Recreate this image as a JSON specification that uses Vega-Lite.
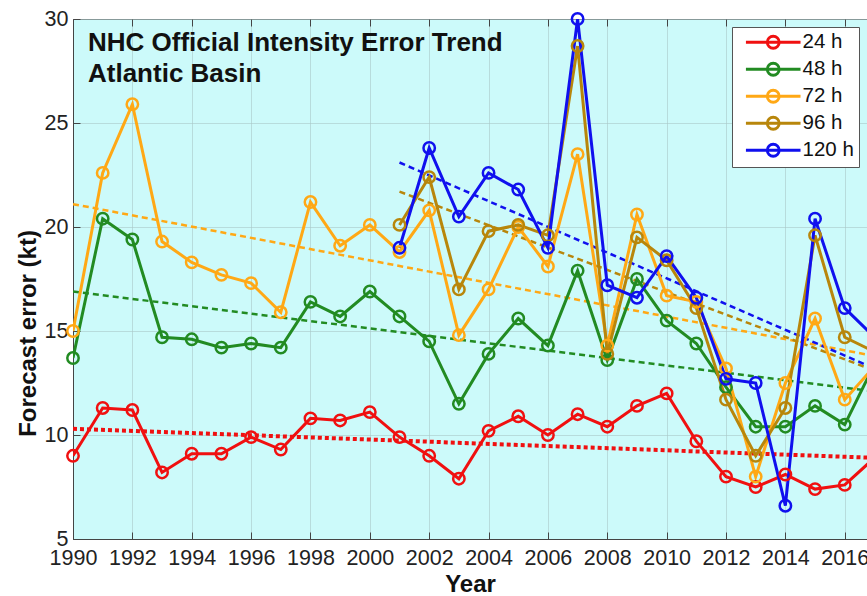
{
  "$schema": "https://vega.github.io/schema/vega-lite/v6.json",
  "width": 794,
  "height": 520,
  "autosize": "none",
  "padding": {"left": 73, "top": 19, "right": 0, "bottom": 57},
  "background": "white",
  "title": {
    "text": ["NHC Official Intensity Error Trend", "Atlantic Basin"],
    "anchor": "start",
    "frame": "group",
    "orient": "top",
    "offset": 0,
    "dx": 15,
    "dy": 79,
    "baseline": "top",
    "font": "Liberation Sans",
    "fontSize": 26,
    "fontWeight": "bold",
    "lineHeight": 31,
    "color": "#111111"
  },
  "datasets": {
    "errors": [
      {"year": 1990, "series": "24 h", "value": 9.0},
      {"year": 1991, "series": "24 h", "value": 11.3},
      {"year": 1992, "series": "24 h", "value": 11.2},
      {"year": 1993, "series": "24 h", "value": 8.2},
      {"year": 1994, "series": "24 h", "value": 9.1},
      {"year": 1995, "series": "24 h", "value": 9.1},
      {"year": 1996, "series": "24 h", "value": 9.9},
      {"year": 1997, "series": "24 h", "value": 9.3},
      {"year": 1998, "series": "24 h", "value": 10.8},
      {"year": 1999, "series": "24 h", "value": 10.7},
      {"year": 2000, "series": "24 h", "value": 11.1},
      {"year": 2001, "series": "24 h", "value": 9.9},
      {"year": 2002, "series": "24 h", "value": 9.0},
      {"year": 2003, "series": "24 h", "value": 7.9},
      {"year": 2004, "series": "24 h", "value": 10.2},
      {"year": 2005, "series": "24 h", "value": 10.9},
      {"year": 2006, "series": "24 h", "value": 10.0},
      {"year": 2007, "series": "24 h", "value": 11.0},
      {"year": 2008, "series": "24 h", "value": 10.4},
      {"year": 2009, "series": "24 h", "value": 11.4},
      {"year": 2010, "series": "24 h", "value": 12.0},
      {"year": 2011, "series": "24 h", "value": 9.7},
      {"year": 2012, "series": "24 h", "value": 8.0},
      {"year": 2013, "series": "24 h", "value": 7.5},
      {"year": 2014, "series": "24 h", "value": 8.1},
      {"year": 2015, "series": "24 h", "value": 7.4},
      {"year": 2016, "series": "24 h", "value": 7.6},
      {"year": 2017, "series": "24 h", "value": 8.9},
      {"year": 1990, "series": "48 h", "value": 13.7},
      {"year": 1991, "series": "48 h", "value": 20.4},
      {"year": 1992, "series": "48 h", "value": 19.4},
      {"year": 1993, "series": "48 h", "value": 14.7},
      {"year": 1994, "series": "48 h", "value": 14.6},
      {"year": 1995, "series": "48 h", "value": 14.2},
      {"year": 1996, "series": "48 h", "value": 14.4},
      {"year": 1997, "series": "48 h", "value": 14.2},
      {"year": 1998, "series": "48 h", "value": 16.4},
      {"year": 1999, "series": "48 h", "value": 15.7},
      {"year": 2000, "series": "48 h", "value": 16.9},
      {"year": 2001, "series": "48 h", "value": 15.7},
      {"year": 2002, "series": "48 h", "value": 14.5},
      {"year": 2003, "series": "48 h", "value": 11.5},
      {"year": 2004, "series": "48 h", "value": 13.9},
      {"year": 2005, "series": "48 h", "value": 15.6},
      {"year": 2006, "series": "48 h", "value": 14.3},
      {"year": 2007, "series": "48 h", "value": 17.9},
      {"year": 2008, "series": "48 h", "value": 13.6},
      {"year": 2009, "series": "48 h", "value": 17.5},
      {"year": 2010, "series": "48 h", "value": 15.5},
      {"year": 2011, "series": "48 h", "value": 14.4},
      {"year": 2012, "series": "48 h", "value": 12.3},
      {"year": 2013, "series": "48 h", "value": 10.4},
      {"year": 2014, "series": "48 h", "value": 10.4},
      {"year": 2015, "series": "48 h", "value": 11.4},
      {"year": 2016, "series": "48 h", "value": 10.5},
      {"year": 2017, "series": "48 h", "value": 13.4},
      {"year": 1990, "series": "72 h", "value": 15.0},
      {"year": 1991, "series": "72 h", "value": 22.6},
      {"year": 1992, "series": "72 h", "value": 25.9},
      {"year": 1993, "series": "72 h", "value": 19.3},
      {"year": 1994, "series": "72 h", "value": 18.3},
      {"year": 1995, "series": "72 h", "value": 17.7},
      {"year": 1996, "series": "72 h", "value": 17.3},
      {"year": 1997, "series": "72 h", "value": 15.9},
      {"year": 1998, "series": "72 h", "value": 21.2},
      {"year": 1999, "series": "72 h", "value": 19.1},
      {"year": 2000, "series": "72 h", "value": 20.1},
      {"year": 2001, "series": "72 h", "value": 18.8},
      {"year": 2002, "series": "72 h", "value": 20.8},
      {"year": 2003, "series": "72 h", "value": 14.8},
      {"year": 2004, "series": "72 h", "value": 17.0},
      {"year": 2005, "series": "72 h", "value": 20.0},
      {"year": 2006, "series": "72 h", "value": 18.1},
      {"year": 2007, "series": "72 h", "value": 23.5},
      {"year": 2008, "series": "72 h", "value": 14.3},
      {"year": 2009, "series": "72 h", "value": 20.6},
      {"year": 2010, "series": "72 h", "value": 16.7},
      {"year": 2011, "series": "72 h", "value": 16.4},
      {"year": 2012, "series": "72 h", "value": 13.2},
      {"year": 2013, "series": "72 h", "value": 8.0},
      {"year": 2014, "series": "72 h", "value": 12.5},
      {"year": 2015, "series": "72 h", "value": 15.6},
      {"year": 2016, "series": "72 h", "value": 11.7},
      {"year": 2017, "series": "72 h", "value": 13.3},
      {"year": 2001, "series": "96 h", "value": 20.1},
      {"year": 2002, "series": "96 h", "value": 22.4},
      {"year": 2003, "series": "96 h", "value": 17.0},
      {"year": 2004, "series": "96 h", "value": 19.8},
      {"year": 2005, "series": "96 h", "value": 20.1},
      {"year": 2006, "series": "96 h", "value": 19.6},
      {"year": 2007, "series": "96 h", "value": 28.7},
      {"year": 2008, "series": "96 h", "value": 13.9},
      {"year": 2009, "series": "96 h", "value": 19.5},
      {"year": 2010, "series": "96 h", "value": 18.4},
      {"year": 2011, "series": "96 h", "value": 16.1},
      {"year": 2012, "series": "96 h", "value": 11.7},
      {"year": 2013, "series": "96 h", "value": 9.0},
      {"year": 2014, "series": "96 h", "value": 11.3},
      {"year": 2015, "series": "96 h", "value": 19.6},
      {"year": 2016, "series": "96 h", "value": 14.7},
      {"year": 2017, "series": "96 h", "value": 14.0},
      {"year": 2001, "series": "120 h", "value": 19.0},
      {"year": 2002, "series": "120 h", "value": 23.8},
      {"year": 2003, "series": "120 h", "value": 20.5},
      {"year": 2004, "series": "120 h", "value": 22.6},
      {"year": 2005, "series": "120 h", "value": 21.8},
      {"year": 2006, "series": "120 h", "value": 19.0},
      {"year": 2007, "series": "120 h", "value": 30.0},
      {"year": 2008, "series": "120 h", "value": 17.2},
      {"year": 2009, "series": "120 h", "value": 16.6},
      {"year": 2010, "series": "120 h", "value": 18.6},
      {"year": 2011, "series": "120 h", "value": 16.6},
      {"year": 2012, "series": "120 h", "value": 12.7},
      {"year": 2013, "series": "120 h", "value": 12.5},
      {"year": 2014, "series": "120 h", "value": 6.6},
      {"year": 2015, "series": "120 h", "value": 20.4},
      {"year": 2016, "series": "120 h", "value": 16.1},
      {"year": 2017, "series": "120 h", "value": 14.7}
    ],
    "trends": [
      {"year": 1990, "series": "24 h", "value": 10.3},
      {"year": 2017, "series": "24 h", "value": 8.9},
      {"year": 1990, "series": "48 h", "value": 16.9},
      {"year": 2017, "series": "48 h", "value": 12.1},
      {"year": 1990, "series": "72 h", "value": 21.1},
      {"year": 2017, "series": "72 h", "value": 13.8},
      {"year": 2001, "series": "96 h", "value": 21.7},
      {"year": 2017, "series": "96 h", "value": 13.1},
      {"year": 2001, "series": "120 h", "value": 23.1},
      {"year": 2017, "series": "120 h", "value": 13.2}
    ]
  },
  "layer": [
    {
      "data": {"name": "trends"},
      "transform": [{"filter": "datum.series !== '24 h'"}],
      "mark": {"type": "line", "strokeWidth": 2.5, "strokeDash": [6, 4], "clip": true},
      "encoding": {
        "x": {"field": "year", "type": "quantitative", "axis": null},
        "y": {
          "field": "value",
          "type": "quantitative",
          "scale": {"domain": [5, 30], "nice": false, "zero": false},
          "axis": {
            "values": [5, 10, 15, 20, 25, 30],
            "title": "Forecast error (kt)",
            "titleFontSize": 24,
            "titleFontWeight": "bold",
            "titleX": -45,
            "titleY": 314,
            "titleAngle": 270,
            "titleAlign": "center",
            "titleBaseline": "middle",
            "grid": true,
            "tickSize": -7,
            "labelPadding": 12,
            "labelFontSize": 21.5
          }
        },
        "color": {"field": "series", "type": "nominal"}
      }
    },
    {
      "data": {"name": "trends"},
      "transform": [{"filter": "datum.series === '24 h'"}],
      "mark": {"type": "line", "strokeWidth": 4, "strokeDash": [4, 3], "clip": true},
      "encoding": {
        "x": {"field": "year", "type": "quantitative", "axis": null},
        "y": {"field": "value", "type": "quantitative"},
        "color": {"field": "series", "type": "nominal"}
      }
    },
    {
      "data": {"name": "errors"},
      "mark": {"type": "line", "strokeWidth": 3, "clip": true},
      "encoding": {
        "x": {
          "field": "year",
          "type": "quantitative",
          "scale": {"domain": [1990, 2016.75], "nice": false, "zero": false},
          "axis": {
            "orient": "bottom",
            "values": [1990, 1992, 1994, 1996, 1998, 2000, 2002, 2004, 2006, 2008, 2010, 2012, 2014, 2016],
            "format": "d",
            "labelOverlap": false,
            "labelFlush": false,
            "title": "Year",
            "titleFontSize": 24,
            "titleFontWeight": "bold",
            "titleY": 45,
            "titleBaseline": "middle",
            "grid": true,
            "tickSize": -7,
            "labelPadding": 15,
            "labelFontSize": 21.5
          }
        },
        "y": {"field": "value", "type": "quantitative"},
        "color": {
          "field": "series",
          "type": "nominal",
          "scale": {
            "domain": ["24 h", "48 h", "72 h", "96 h", "120 h"],
            "range": ["#f01010", "#228b22", "#ffa815", "#b8860b", "#1010ee"]
          },
          "legend": {
            "title": null,
            "orient": "top-right",
            "offset": 8,
            "padding": 5,
            "symbolType": "M-0.22,0H8.88M5.33,0A1,1 0 1 1 3.33,0A1,1 0 1 1 5.33,0",
            "symbolSize": 144,
            "symbolStrokeWidth": 2.8,
            "symbolFillColor": "transparent",
            "symbolDash": [],
            "labelOffset": 45,
            "labelFontSize": 20.5,
            "labelFont": "Liberation Sans",
            "labelColor": "#111111",
            "rowPadding": 3,
            "fillColor": "white",
            "strokeColor": "#555555"
          }
        }
      }
    },
    {
      "data": {"name": "errors"},
      "mark": {"type": "point", "shape": "circle", "filled": false, "size": 130, "strokeWidth": 2.5, "opacity": 1, "clip": false},
      "encoding": {
        "x": {
          "field": "year",
          "type": "quantitative",
          "axis": {
            "orient": "top",
            "values": [1990, 1992, 1994, 1996, 1998, 2000, 2002, 2004, 2006, 2008, 2010, 2012, 2014, 2016],
            "labels": false,
            "title": null,
            "grid": false,
            "domain": false,
            "tickSize": -7
          }
        },
        "y": {"field": "value", "type": "quantitative"},
        "color": {"field": "series", "type": "nominal"}
      }
    }
  ],
  "resolve": {"axis": {"x": "independent"}},
  "config": {
    "view": {"fill": "#ccfafa", "stroke": "#555555", "strokeWidth": 1},
    "font": "Liberation Sans",
    "axis": {
      "labelFont": "Liberation Sans",
      "titleFont": "Liberation Sans",
      "labelColor": "#222222",
      "titleColor": "#111111",
      "domainColor": "#444444",
      "tickColor": "#444444",
      "gridColor": "#a9c8c8",
      "gridOpacity": 0.6,
      "gridWidth": 1
    }
  }
}
